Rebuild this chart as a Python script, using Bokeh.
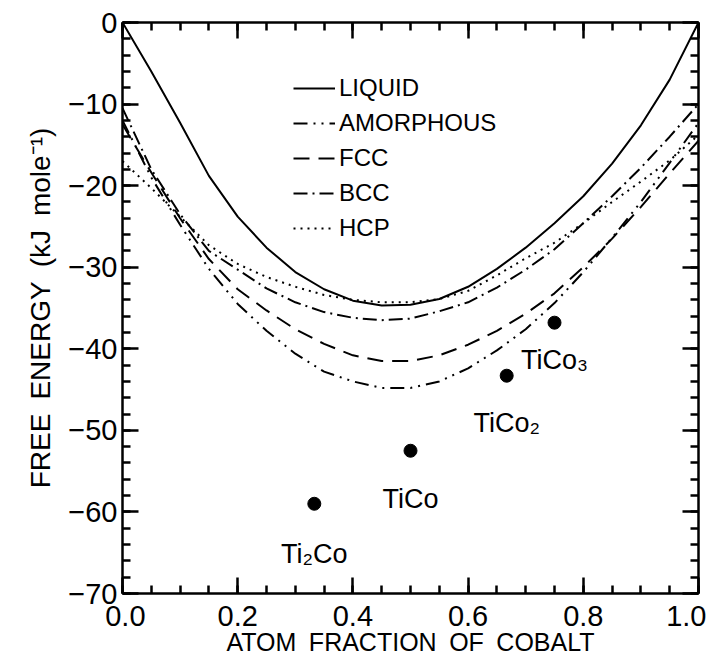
from bokeh.plotting import figure
from bokeh.models import (LinearAxis, FixedTicker, Legend, LegendItem,
                          ColumnDataSource, Range1d)
from bokeh.embed import file_html
from bokeh.resources import INLINE
from bokeh.core.properties import value

# ---------------- data ----------------
x_frac = [0.0, 0.05, 0.10, 0.15, 0.20, 0.25, 0.30, 0.35, 0.40, 0.45, 0.50,
          0.55, 0.60, 0.65, 0.70, 0.75, 0.80, 0.85, 0.90, 0.95, 1.0]
liquid = [0.0, -6.0, -12.3, -18.8, -23.8, -27.6, -30.6, -32.7, -34.1, -34.7, -34.6,
          -33.9, -32.4, -30.2, -27.6, -24.6, -21.3, -17.3, -12.6, -7.0, 0.0]
amorphous = [-12.0, -19.0, -24.8, -30.2, -34.5, -37.8, -40.6, -42.8, -44.0, -44.8, -44.8,
             -44.0, -42.4, -40.2, -37.6, -34.4, -30.6, -26.4, -22.0, -17.2, -12.3]
fcc = [-12.5, -18.4, -24.0, -29.0, -32.7, -35.3, -37.6, -39.4, -40.8, -41.5, -41.5,
       -40.8, -39.5, -37.8, -35.7, -33.2, -30.0, -26.5, -22.6, -18.5, -14.5]
bcc = [-10.5, -18.0, -23.5, -28.0, -30.3, -32.6, -34.3, -35.5, -36.2, -36.5, -36.3,
       -35.4, -34.3, -32.5, -30.3, -27.8, -24.6, -21.3, -17.8, -14.0, -10.0]
hcp = [-17.0, -20.3, -23.8, -27.3, -29.6, -31.2, -32.4, -33.4, -34.0, -34.3, -34.3,
       -33.9, -32.9, -31.0, -28.9, -27.0, -24.6, -22.0, -19.5, -16.9, -13.8]

compounds = ["Ti\u2082Co", "TiCo", "TiCo\u2082", "TiCo\u2083"]
comp_x = [0.333, 0.50, 0.667, 0.75]
comp_g = [-59.0, -52.5, -43.3, -36.8]

x_ticks = [0.0, 0.2, 0.4, 0.6, 0.8, 1.0]
x_tick_labels = ["0.0", "0.2", "0.4", "0.6", "0.8", "1.0"]
y_ticks = [0, -10, -20, -30, -40, -50, -60, -70]
y_tick_labels = ["0", "\u221210", "\u221220", "\u221230", "\u221240", "\u221250", "\u221260", "\u221270"]

series_names = ["LIQUID", "AMORPHOUS", "FCC", "BCC", "HCP"]
series_vals = [liquid, amorphous, fcc, bcc, hcp]

# ---------------- styles ----------------
FONT = "Liberation Sans"
dashes = ["solid", "14 6 2 6 2 6", "16 9", "14 5 2 5", "2 5"]
label_dy = [50, 48, 47, 37]   # screen offsets of compound labels below their dots

# the first label of the x axis sits slightly inside the frame in the original
x_label_text = list(x_tick_labels)
x_label_text[0] = "\u2009" + x_label_text[0]

p = figure(width=706, height=659, x_range=Range1d(0, 1), y_range=Range1d(-70, 0),
           output_backend="svg", toolbar_location=None,
           min_border_left=122, min_border_right=8, min_border_top=22, min_border_bottom=66,
           x_axis_label="ATOM\u2002FRACTION\u2002OF\u2002COBALT",
           y_axis_label="FREE\u2002ENERGY\u2002(kJ\u2002mole\u207b\u00b9)")
p.grid.visible = False
p.outline_line_color = None
p.background_fill_color = "white"
p.border_fill_color = "white"

xminor = [i * 0.05 for i in range(21)]
yminor = [-2 * i for i in range(36)]

def style_axis(ax, xdir, show):
    ax.ticker = FixedTicker(ticks=x_ticks if xdir else y_ticks,
                            minor_ticks=xminor if xdir else yminor)
    ax.axis_line_width = 2.5
    ax.major_tick_line_width = 2.5
    ax.minor_tick_line_width = 2.5
    ax.major_tick_in = 16
    ax.major_tick_out = 0
    ax.minor_tick_in = 8
    ax.minor_tick_out = 0
    ax.axis_line_color = "black"
    ax.major_tick_line_color = "black"
    ax.minor_tick_line_color = "black"
    if show:
        ax.major_label_overrides = dict(zip(x_ticks, x_label_text)) if xdir else dict(zip(y_ticks, y_tick_labels))
        ax.major_label_text_font = FONT
        ax.major_label_text_font_size = "29px"
        ax.major_label_text_color = "black"
        ax.axis_label_text_font = FONT
        ax.axis_label_text_font_style = "normal"
        ax.axis_label_text_color = "black"
    else:
        ax.major_label_text_color = None
        ax.major_label_text_font_size = "1px"
        ax.major_label_standoff = 0

style_axis(p.xaxis[0], True, True)
style_axis(p.yaxis[0], False, True)
p.xaxis[0].axis_label_text_font_size = "25px"
p.yaxis[0].axis_label_text_font_size = "28px"
p.xaxis[0].major_label_standoff = 6
p.xaxis[0].axis_label_standoff = -7
p.yaxis[0].major_label_standoff = 5
p.yaxis[0].axis_label_standoff = 9

top = LinearAxis()
style_axis(top, True, False)
p.add_layout(top, "above")
right = LinearAxis()
style_axis(right, False, False)
p.add_layout(right, "right")

src = ColumnDataSource(dict(x=x_frac, liquid=liquid, amorphous=amorphous,
                            fcc=fcc, bcc=bcc, hcp=hcp))
items = []
for name, vals, dash in zip(series_names, series_vals, dashes):
    r = p.line(x="x", y=name.lower(), source=src, line_color="black",
               line_width=2, line_dash=dash)
    items.append(LegendItem(label=name, renderers=[r]))

legend = Legend(items=items, location=(171, 348), glyph_width=42, glyph_height=34,
                label_height=34, spacing=1, label_standoff=4, padding=0, margin=0,
                border_line_color=None, background_fill_alpha=0,
                label_text_font=FONT, label_text_font_size="24px",
                label_text_color="black")
p.add_layout(legend)

csrc = ColumnDataSource(dict(x=comp_x, y=comp_g, name=compounds, dy=label_dy))
p.scatter(x="x", y="y", source=csrc, size=13, color="black")
p.text(x="x", y="y", text="name", source=csrc, y_offset="dy",
       text_align="center", text_baseline="alphabetic",
       text_font=value(FONT), text_font_size="27px", text_color="black")

open("out.html", "w").write(file_html(p, INLINE))
